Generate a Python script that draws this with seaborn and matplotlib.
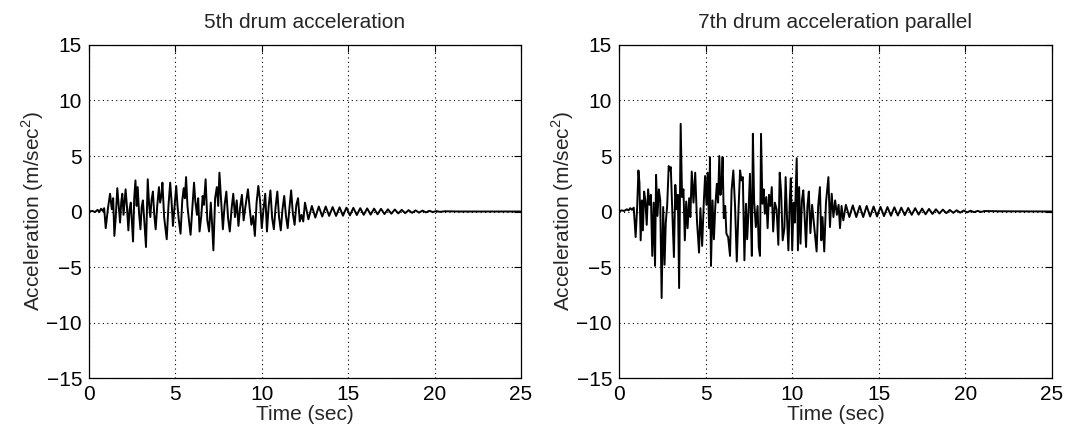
import numpy as np
import pandas as pd
import matplotlib
matplotlib.use("Agg")
import matplotlib.pyplot as plt
import seaborn as sns

# -------------------------------
# Data (peaks / troughs of each record)
# -------------------------------
time_5th = [0.0, 0.2, 0.35, 0.5, 0.6, 0.7, 0.8, 0.88, 0.97, 1.1, 1.22, 1.32, 1.4, 1.47, 1.55, 1.64,
            1.72, 1.8, 1.87, 1.93, 2.0, 2.12, 2.2, 2.28, 2.35, 2.42, 2.55, 2.62, 2.69, 2.76, 2.82,
            2.9, 2.98, 3.05, 3.12, 3.2, 3.3, 3.4, 3.48, 3.55, 3.62, 3.7, 3.78, 3.86, 3.95, 4.05,
            4.12, 4.2, 4.25, 4.35, 4.45, 4.5, 4.6, 4.7, 4.78, 4.86, 4.95, 5.05, 5.12, 5.2, 5.3,
            5.4, 5.48, 5.55, 5.62, 5.7, 5.8, 5.88, 5.98, 6.08, 6.15, 6.25, 6.32, 6.4, 6.5, 6.58,
            6.65, 6.75, 6.85, 6.95, 7.05, 7.12, 7.2, 7.3, 7.4, 7.48, 7.55, 7.65, 7.75, 7.85, 7.95,
            8.05, 8.15, 8.25, 8.35, 8.45, 8.55, 8.65, 8.75, 8.85, 8.95, 9.05, 9.2, 9.3, 9.4, 9.5,
            9.6, 9.7, 9.8, 9.9, 10.0, 10.1, 10.2, 10.3, 10.4, 10.5, 10.6, 10.7, 10.8, 10.9, 11.0,
            11.1, 11.2, 11.3, 11.4, 11.5, 11.6, 11.7, 11.8, 11.9, 12.0, 12.1, 12.2, 12.3, 12.4,
            12.5, 12.7, 12.9, 13.1, 13.3, 13.5, 13.7, 13.9, 14.1, 14.3, 14.5, 14.7, 14.9, 15.1,
            15.3, 15.5, 15.7, 15.9, 16.1, 16.3, 16.5, 16.7, 16.9, 17.1, 17.3, 17.5, 17.7, 17.9,
            18.1, 18.3, 18.5, 18.7, 18.9, 19.1, 19.3, 19.5, 19.7, 19.9, 20.1, 20.3, 20.6, 21.5, 25.0]
accel_5th = [0.0, 0.05, -0.05, 0.15, -0.05, 0.25, 0.05, 0.3, -1.5, 0.3, 1.6, 0.2, 1.2, -2.2, -0.5, 2.1,
             0.6, -1.0, 0.9, 1.6, -0.3, 2.0, 0.4, -1.7, 0.2, 0.8, -2.7, 1.2, 2.8, 0.5, 2.2,
             -0.2, -1.6, 0.4, 1.0, -0.8, -3.2, 2.9, 0.6, -0.5, 1.0, 1.8, -0.3, -1.6, 0.5, 2.2,
             0.8, 1.5, 2.6, -0.5, -1.8, -2.5, 0.5, 2.6, 0.9, -1.3, 0.4, 2.3, 0.6, -0.8, -2.0,
             1.0, 2.1, 1.2, 3.1, 0.5, -1.0, -2.1, 0.3, 2.6, 1.0, -0.3, 1.2, -1.8, -0.4, 1.4,
             0.6, 2.9, -0.8, -1.8, 0.8, -1.0, -3.5, 1.2, 2.2, 0.5, 3.5, 1.0, -1.6, 0.6, 1.8,
             -0.6, -1.8, 0.2, 1.6, -0.5, 1.0, -1.3, 0.4, 1.5, -0.8, 0.4, 2.0, 0.3, -1.2, -0.4,
             -2.2, 0.8, 2.3, 1.0, -1.5, 0.2, 1.6, -1.8, 0.5, 1.9, -0.6, -1.6, 0.4, 1.8, -0.5,
             -1.7, 0.2, 1.4, -0.4, -1.5, 0.3, 1.9, -0.2, -1.2, 0.6, 1.2, -0.9, -0.3, -0.9,
             0.8, -0.7, 0.5, -0.55, 0.45, -0.45, 0.45, -0.4, 0.4, -0.4, 0.38, -0.38, 0.35, -0.35,
             0.33, -0.32, 0.3, -0.3, 0.28, -0.28, 0.26, -0.25, 0.24, -0.23, 0.2, -0.2, 0.18, -0.17,
             0.15, -0.15, 0.12, -0.12, 0.1, -0.1, 0.08, -0.08, 0.06, -0.05, 0.04, -0.03, 0.02, 0.0, 0.0]

time_7th = [0.0, 0.15, 0.3, 0.45, 0.55, 0.65, 0.75, 0.85, 0.96, 1.05, 1.12, 1.18, 1.25, 1.32, 1.38,
            1.45, 1.52, 1.6, 1.68, 1.76, 1.84, 1.92, 2.0, 2.08, 2.14, 2.22, 2.3, 2.38, 2.46, 2.55,
            2.63, 2.7, 2.78, 2.87, 2.93, 2.99, 3.05, 3.17, 3.25, 3.33, 3.4, 3.47, 3.56, 3.64, 3.72,
            3.8, 3.88, 3.96, 4.05, 4.12, 4.2, 4.3, 4.4, 4.5, 4.62, 4.7, 4.8, 4.9, 4.97, 5.05, 5.12,
            5.2, 5.25, 5.31, 5.4, 5.48, 5.56, 5.65, 5.72, 5.79, 5.86, 5.93, 5.98, 6.05, 6.13, 6.2,
            6.3, 6.41, 6.5, 6.6, 6.7, 6.8, 6.9, 6.99, 7.07, 7.15, 7.24, 7.33, 7.4, 7.48, 7.56,
            7.62, 7.67, 7.73, 7.8, 7.9, 8.0, 8.07, 8.14, 8.2, 8.28, 8.35, 8.42, 8.5, 8.58, 8.66,
            8.74, 8.82, 8.9, 9.0, 9.1, 9.2, 9.28, 9.36, 9.45, 9.55, 9.62, 9.7, 9.78, 9.86, 9.92,
            10.0, 10.08, 10.15, 10.26, 10.33, 10.4, 10.48, 10.56, 10.64, 10.72, 10.8, 10.88, 10.96,
            11.05, 11.15, 11.25, 11.41, 11.5, 11.6, 11.68, 11.75, 11.85, 11.95, 12.09, 12.18, 12.28,
            12.38, 12.48, 12.58, 12.68, 12.76, 12.85, 12.95, 13.1, 13.3, 13.5, 13.7, 13.9, 14.1,
            14.3, 14.5, 14.7, 14.9, 15.1, 15.3, 15.5, 15.7, 15.9, 16.1, 16.3, 16.5, 16.7, 16.9,
            17.1, 17.3, 17.5, 17.7, 17.9, 18.1, 18.3, 18.5, 18.7, 18.9, 19.1, 19.3, 19.5, 19.7,
            19.9, 20.1, 20.3, 20.5, 20.7, 20.9, 21.1, 22.0, 25.0]
accel_7th = [0.0, 0.1, 0.05, 0.2, 0.1, 0.3, 0.15, 0.35, -2.3, 0.5, 3.7, 2.6, -2.6, 1.0, -1.7,
             1.8, 1.0, -1.2, 2.0, 0.6, 1.5, -4.0, 0.8, -4.9, 3.3, -0.4, 2.0, 1.0, -7.8, 0.4,
             -4.8, -1.0, 0.5, 4.1, 3.7, 4.0, 1.2, -4.1, 2.4, 0.2, 1.5, -6.9, 7.9, 1.3, 2.0,
             -2.6, 0.9, -1.5, 1.2, -0.5, 3.6, 0.8, 3.5, -0.8, -3.7, 0.3, -3.1, 1.0, 3.2, 0.6, 3.5,
             -1.5, 4.9, -4.9, 1.0, -2.5, 0.5, 2.5, 0.8, 5.0, 1.5, 2.5, 4.9, -0.6, 0.5, -2.0,
             -2.3, -4.0, 1.9, 3.7, 0.5, -4.5, 0.2, 3.7, 2.8, 3.1, -4.4, 0.7, -2.5, 0.1, 3.4,
             -1.0, -4.0, 7.0, 1.0, -1.4, 0.5, -3.2, -4.0, 7.0, 0.7, 2.0, -0.2, 1.3, -1.5, 1.5,
             0.5, 2.2, -1.8, 0.8, 0.2, -3.0, 3.5, 1.7, -2.6, -1.5, 3.1, -0.5, -3.5, 1.0, 3.0,
             -3.5, 0.8, -1.0, 4.8, -3.5, 2.2, -2.9, 1.0, 1.9, -0.5, -3.2, 0.5, 1.8,
             -1.95, 0.6, -1.0, -3.6, 0.5, 2.2, -2.6, -0.5, -3.6, 0.8, 3.1, -1.4, 1.6,
             -0.5, 1.0, -0.3, 0.6, -1.5, 0.5, -0.8, 0.6, -0.5, 0.55, -0.5, 0.5, -0.5,
             0.5, -0.45, 0.45, -0.45, 0.42, -0.42, 0.4, -0.38, 0.38, -0.36, 0.35, -0.33, 0.32, -0.3,
             0.3, -0.28, 0.26, -0.25, 0.23, -0.22, 0.2, -0.18, 0.17, -0.15, 0.14, -0.12, 0.11, -0.1,
             0.09, -0.08, 0.07, -0.06, 0.05, -0.04, 0.04, 0.02, 0.0]

titles = ["5th drum acceleration", "7th drum acceleration parallel"]
x_ticks = [0, 5, 10, 15, 20, 25]
y_ticks = [-15, -10, -5, 0, 5, 10, 15]

# -------------------------------
# Style (MATLAB-like)
# -------------------------------
sns.set_theme(style="white")
plt.rcParams['font.family'] = ['Liberation Sans', 'DejaVu Sans']
plt.rcParams['mathtext.fontset'] = 'custom'
plt.rcParams['mathtext.rm'] = 'Liberation Sans'
plt.rcParams['axes.unicode_minus'] = True

fig = plt.figure(figsize=(10.68, 4.36), dpi=100)
ax1 = fig.add_axes([0.0833, 0.133, 0.4045, 0.7638])
ax2 = fig.add_axes([0.5796, 0.133, 0.4054, 0.7638])

records = [(time_5th, accel_5th), (time_7th, accel_7th)]

for ax, (t, a), title in zip([ax1, ax2], records, titles):
    df = pd.DataFrame({"Time": t, "Accel": a})
    sns.lineplot(data=df, x="Time", y="Accel", ax=ax, color="black",
                 linewidth=1.4, estimator=None, sort=False)
    ax.set_xlim(0, 25)
    ax.set_ylim(-15, 15)
    ax.set_xticks(x_ticks)
    ax.set_yticks(y_ticks)
    ax.tick_params(direction="in", length=5, width=0.8, labelsize=15,
                   top=True, right=True, colors="black")
    ax.tick_params(axis="x", pad=5)
    ax.tick_params(axis="y", pad=5)
    ax.grid(True, linestyle=(0, (1, 3)), color="black", linewidth=0.8)
    for sp in ax.spines.values():
        sp.set_color("black")
        sp.set_linewidth(0.9)
    ax.set_title(title, fontsize=15, pad=12)
    ax.set_xlabel("Time (sec)", fontsize=15, labelpad=1)
    ax.set_ylabel("Acceleration (m/sec$^2$)", fontsize=15, labelpad=0)

fig.savefig("out.png", dpi=100)
